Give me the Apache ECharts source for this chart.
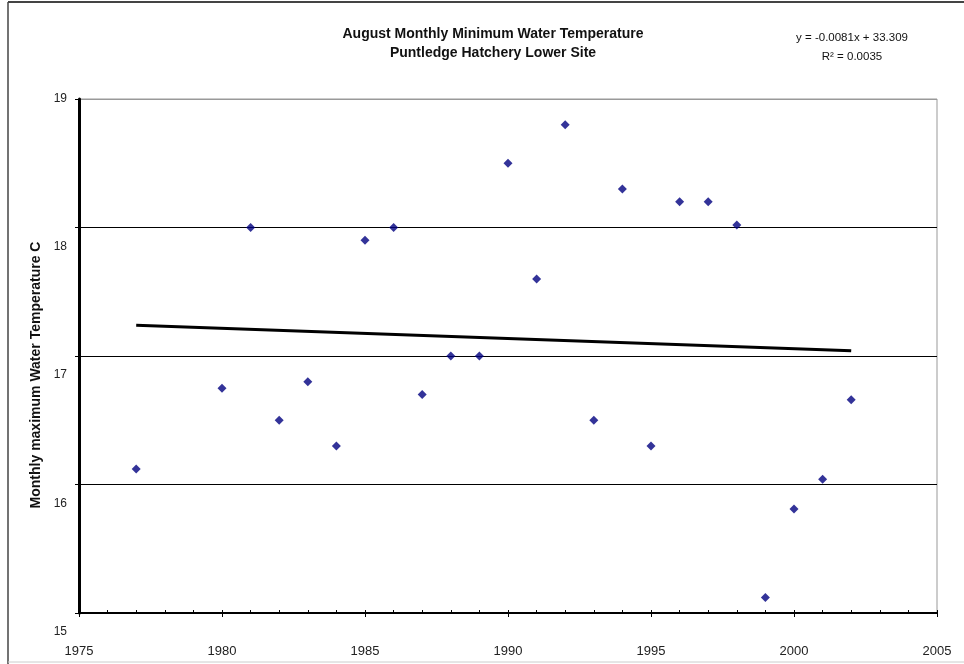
<!DOCTYPE html>
<html>
<head>
<meta charset="utf-8">
<title>August Monthly Minimum Water Temperature</title>
<script src="https://cdn.jsdelivr.net/npm/echarts@6/dist/echarts.min.js"></script>
<style>
  html, body { margin: 0; padding: 0; background: #fff; }
  #main { width: 964px; height: 664px; }
</style>
</head>
<body>
<div id="main"></div>
<script type="text/javascript">
// data
var years = [1977, 1980, 1981, 1982, 1983, 1984, 1985, 1986, 1987, 1988, 1989, 1990,
             1991, 1992, 1993, 1994, 1995, 1996, 1997, 1998, 1999, 2000, 2001, 2002];
var temps = [16.12, 16.75, 18.0, 16.5, 16.8, 16.3, 17.9, 18.0, 16.7, 17.0, 17.0, 18.5,
             17.6, 18.8, 16.5, 18.3, 16.3, 18.2, 18.2, 18.02, 15.12, 15.81, 16.04, 16.66];
// trend line end points (as drawn)
var trendYears = [1977, 2002];
var trendTemps = [17.24, 17.04];
var titleLines = ['August Monthly Minimum Water Temperature', 'Puntledge Hatchery Lower Site'];
var equationLines = ['y = -0.0081x + 33.309', 'R² = 0.0035'];

var points = [];
for (var i = 0; i < years.length; i++) {
    points.push([years[i], temps[i]]);
}
var trend = [];
for (var j = 0; j < trendYears.length; j++) {
    trend.push([trendYears[j], trendTemps[j]]);
}

var font = 'Liberation Sans, Arial, sans-serif';
var myChart = echarts.init(document.getElementById('main'));

var option = {
    animation: false,
    textStyle: { fontFamily: font },
    title: [{
        text: titleLines.join('\n'),
        left: 488, top: 20, textAlign: 'center',
        textStyle: { fontSize: 14, fontWeight: 'bold', color: '#111', lineHeight: 19, fontFamily: font }
    }, {
        text: equationLines.join('\n'),
        left: 847, top: 23, textAlign: 'center',
        textStyle: { fontSize: 11.5, fontWeight: 'normal', color: '#111', lineHeight: 19, fontFamily: font }
    }],
    grid: { left: 79, right: 27, top: 99, bottom: 51, show: true, borderColor: '#999', borderWidth: 1 },
    xAxis: [{
        type: 'value', min: 1975, max: 2005, interval: 5,
        axisLine: { lineStyle: { color: '#000', width: 2 } },
        axisTick: { show: true, length: 4, lineStyle: { color: '#000' } },
        axisLabel: { margin: 32, fontSize: 13, color: '#222', formatter: function (v) { return String(v); } },
        splitLine: { show: false }
    }, {
        type: 'value', min: 1975, max: 2005, interval: 1, position: 'bottom',
        axisLine: { show: false },
        axisTick: { show: true, inside: true, length: 3, lineStyle: { color: '#000' } },
        axisLabel: { show: false },
        splitLine: { show: false }
    }],
    yAxis: {
        type: 'value', min: 15, max: 19, interval: 1,
        name: 'Monthly maximum Water Temperature C',
        nameLocation: 'middle', nameGap: 35, nameRotate: 90,
        nameTextStyle: { fontSize: 14, fontWeight: 'bold', color: '#111', padding: [0, 38, 0, 0] },
        axisLine: { lineStyle: { color: '#000', width: 3 } },
        axisTick: { show: true, length: 4, lineStyle: { color: '#000' } },
        axisLabel: {
            margin: 12, fontSize: 12, color: '#222',
            formatter: function (v) { return v === 19 ? '{a|' + v + '}' : '{b|' + v + '}'; },
            rich: {
                a: { fontSize: 12, color: '#222' },
                b: { fontSize: 12, color: '#222', padding: [38, 0, 0, 0] }
            }
        },
        splitLine: { show: true, lineStyle: { color: ['#000', '#000', '#000', '#000', '#999'], width: 1 } }
    },
    graphic: [
        { type: 'line', shape: { x1: 8, y1: 2, x2: 964, y2: 2 }, style: { stroke: '#444', lineWidth: 2 } },
        { type: 'line', shape: { x1: 8, y1: 2, x2: 8, y2: 664 }, style: { stroke: '#444', lineWidth: 1.5 } },
        { type: 'line', shape: { x1: 8, y1: 662, x2: 964, y2: 662 }, style: { stroke: '#ccc', lineWidth: 1 } }
    ],
    series: [{
        name: 'Trend',
        type: 'line',
        xAxisIndex: 0,
        data: trend,
        showSymbol: false,
        lineStyle: { color: '#000', width: 3 },
        z: 2
    }, {
        name: 'Temperature',
        type: 'scatter',
        xAxisIndex: 0,
        data: points,
        symbol: 'diamond',
        symbolSize: 9,
        itemStyle: { color: '#000080' },
        z: 3
    }]
};

myChart.setOption(option);
</script>
</body>
</html>
